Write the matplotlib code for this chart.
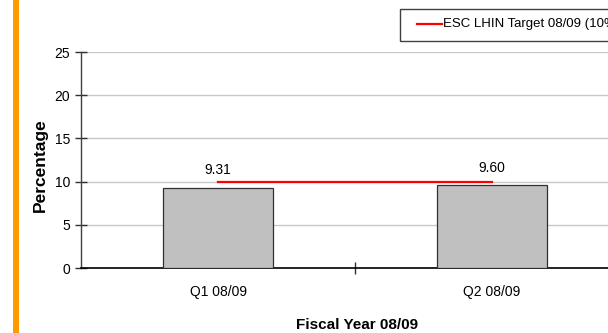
import matplotlib
matplotlib.use("Agg")
import matplotlib.pyplot as plt
from matplotlib.patches import Rectangle
from matplotlib.lines import Line2D

plt.rcParams['font.family'] = ['Liberation Sans', 'DejaVu Sans']

# Data
quarters = ["Q1 08/09", "Q2 08/09"]
percentages = [9.31, 9.60]
target = [10, 10]
target_label = "ESC LHIN Target 08/09 (10%)"
y_ticks = [0, 5, 10, 15, 20, 25]

fig = plt.figure(figsize=(6.08, 3.33), dpi=100)
fig.patch.set_facecolor("white")

# Orange accent strip on the left edge
fig.add_artist(Rectangle((13 / 608, 0), 6 / 608, 1, transform=fig.transFigure,
                         facecolor="#ff9900", edgecolor="none"))

ax = fig.add_axes([81 / 608, 65 / 333, 548 / 608, 216 / 333])
x = list(range(len(quarters)))

ax.bar(x, percentages, width=0.4, color="#c0c0c0", edgecolor="#303030",
       linewidth=0.9, zorder=3)
ax.plot(x, target, color="#ff0000", linewidth=1.6, zorder=4)

for xi, v in zip(x, percentages):
    ax.text(xi, v + 1.2, f"{v:.2f}", ha="center", va="bottom", fontsize=10,
            color="#000000", zorder=5)

ax.set_xlim(-0.5, len(quarters) - 0.5)
ax.set_ylim(0, 25)
ax.set_yticks(y_ticks)
ax.set_xticks([0.5])
ax.set_xticklabels([""])
for xi, q in zip(x, quarters):
    ax.text(xi, -2.0, q, ha="center", va="top", fontsize=10,
            transform=ax.transData)

ax.tick_params(axis="y", direction="inout", length=8, width=1, labelsize=10,
               pad=4, colors="#303030", labelcolor="#000000")
ax.tick_params(axis="x", direction="inout", length=8, width=1, colors="#303030")

ax.yaxis.grid(True, color="#c8c8c8", linewidth=1, zorder=0)
ax.set_axisbelow(True)
for side in ("top", "right"):
    ax.spines[side].set_visible(False)
ax.spines["left"].set_color("#404040")
ax.spines["bottom"].set_color("#000000")
ax.spines["left"].set_linewidth(1)
ax.spines["bottom"].set_linewidth(1.2)

fig.text(40 / 608, 1 - 165 / 333, "Percentage", rotation=90, ha="center",
         va="center", fontsize=12.5, fontweight="bold")
fig.text(357 / 608, 1 - 325 / 333, "Fiscal Year 08/09", ha="center",
         va="center", fontsize=11, fontweight="bold")

# Legend box (extends past the right edge)
fig.add_artist(Rectangle((400 / 608, 1 - 41 / 333), 240 / 608, 32 / 333,
                         transform=fig.transFigure, facecolor="white",
                         edgecolor="#404040", linewidth=1))
fig.add_artist(Line2D([417 / 608, 442 / 608], [1 - 24 / 333, 1 - 24 / 333],
                      transform=fig.transFigure, color="#ff0000",
                      linewidth=1.6))
fig.text(443 / 608, 1 - 24 / 333, target_label, ha="left", va="center",
         fontsize=9.5)

fig.savefig("out.png", dpi=100, facecolor="white")
